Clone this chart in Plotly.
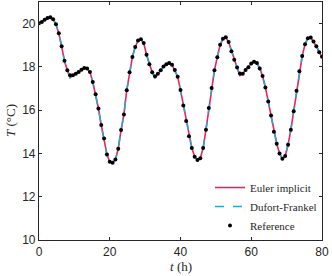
import plotly.graph_objects as go

# time grid (h), step 0.8 h
t_h = [round(i * 0.8, 1) for i in range(101)]

# reference temperature (°C)
T_ref = [20.02, 20.08, 20.18, 20.26, 20.29, 20.20, 19.97, 19.55, 18.95, 18.28,
         17.85, 17.62, 17.62, 17.68, 17.76, 17.87, 17.95, 17.93, 17.76, 17.30,
         16.74, 16.08, 15.31, 14.69, 13.95, 13.62, 13.57, 13.72, 14.22, 15.08,
         15.80, 16.92, 17.75, 18.46, 18.92, 19.22, 19.28, 19.10, 18.56, 18.12,
         17.75, 17.57, 17.68, 17.84, 18.02, 18.12, 18.18, 18.10, 17.86, 17.55,
         16.93, 16.22, 15.50, 14.80, 14.25, 13.85, 13.70, 13.78, 14.25, 15.10,
         16.10, 17.02, 17.85, 18.45, 19.02, 19.30, 19.37, 19.15, 18.72, 18.33,
         17.97, 17.70, 17.68, 17.86, 17.99, 18.16, 18.24, 18.18, 17.93, 17.58,
         17.05, 16.40, 15.75, 15.00, 14.45, 14.00, 13.76, 13.88, 14.40, 15.10,
         15.95, 16.90, 17.80, 18.50, 19.05, 19.32, 19.36, 19.18, 18.96, 18.68,
         18.47]

# numerical solutions (slight undershoot at the kinks)
T_euler = list(T_ref)
T_dufort = list(T_ref)
for idx, val in [(11, 17.50), (41, 17.50), (71, 17.60)]:
    T_euler[idx] = val
    T_dufort[idx] = val

names = ["Euler implicit", "Dufort-Frankel", "Reference"]
x_ticks = [0, 20, 40, 60, 80]
y_ticks = [10, 12, 14, 16, 18, 20]

fig = go.Figure()
fig.add_trace(go.Scatter(x=t_h, y=T_euler, mode="lines", name=names[0],
                         line=dict(color="#E8245C", width=1.6)))
fig.add_trace(go.Scatter(x=t_h, y=T_dufort, mode="lines", name=names[1],
                         line=dict(color="#2AA5D5", width=1.6, dash="dash")))
fig.add_trace(go.Scatter(x=t_h, y=T_ref, mode="markers", name=names[2],
                         marker=dict(color="black", size=4)))

axis_common = dict(
    showline=True, linecolor="#262626", linewidth=1.2, mirror="ticks",
    ticks="inside", ticklen=3, tickcolor="#262626", showgrid=False,
    zeroline=False, automargin=False,
    tickfont=dict(family="Liberation Sans, Arial", size=12, color="#262626"),
)

serif = dict(family="Liberation Serif, DejaVu Serif", size=13, color="#262626")

fig.update_layout(
    width=332, height=276,
    margin=dict(l=39, r=10, t=2, b=36),
    paper_bgcolor="white", plot_bgcolor="white",
    xaxis=dict(range=[0, 80], tickvals=x_ticks, **axis_common),
    yaxis=dict(range=[10, 21], tickvals=y_ticks, **axis_common),
    legend=dict(x=1.0, y=0.0, xanchor="right", yanchor="bottom",
                bgcolor="rgba(255,255,255,0)", borderwidth=0,
                font=dict(family="Liberation Serif, DejaVu Serif", size=11, color="#262626"),
                tracegroupgap=0, itemwidth=30),
    showlegend=True,
    annotations=[
        dict(text="<i>t</i> (h)", x=0.5, y=0, xref="paper", yref="paper",
             xanchor="center", yanchor="top", yshift=-17, showarrow=False, font=serif),
        dict(text="<i>T</i> (°C)", x=0, y=0.5, xref="paper", yref="paper",
             xanchor="center", yanchor="middle", xshift=-29, textangle=-90,
             showarrow=False, font=serif),
    ],
)

fig.write_html("out.html", config={"displayModeBar": False},
               post_script="document.body.style.margin='0';document.body.style.padding='0';")
